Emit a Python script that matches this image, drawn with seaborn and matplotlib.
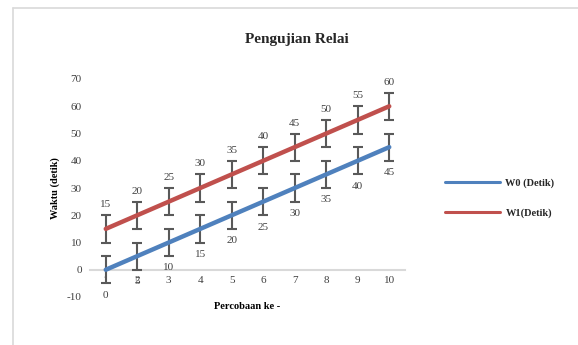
import numpy as np
import pandas as pd
import seaborn as sns
import matplotlib.pyplot as plt
from matplotlib.lines import Line2D

sns.set_theme(style="white")
plt.rcParams['font.family'] = ['Liberation Serif', 'DejaVu Serif']
plt.rcParams['axes.unicode_minus'] = False

# data
trials = [1, 2, 3, 4, 5, 6, 7, 8, 9, 10]
w0 = [0, 5, 10, 15, 20, 25, 30, 35, 40, 45]
w1 = [15, 20, 25, 30, 35, 40, 45, 50, 55, 60]
err = 5
series_names = ["W0 (Detik)", "W1(Detik)"]
colors = ["#4F81BD", "#C0504D"]

df = pd.DataFrame({
    "trial": trials * 2,
    "waktu": w0 + w1,
    "seri": [series_names[0]] * len(w0) + [series_names[1]] * len(w1),
})

fig = plt.figure(figsize=(5.78, 3.45), dpi=100)
ax = fig.add_axes([90 / 578, 1 - 297 / 345, 315 / 578, 218 / 345])

# error bars underneath the lines
for vals in (w0, w1):
    ax.errorbar(trials, vals, yerr=err, fmt="none", ecolor="#595959",
                elinewidth=1.5, capsize=3.6, capthick=1.5, zorder=2)

sns.lineplot(data=df, x="trial", y="waktu", hue="seri", palette=colors,
             linewidth=3.2, ax=ax, legend=False, zorder=3,
             solid_capstyle="round")

# data labels
for x, v in zip(trials, w0):
    ax.annotate(str(v), (x, v - err), xytext=(0, -8.5), textcoords="offset points",
                ha="center", va="center", fontsize=8, color="#404040")
for x, v in zip(trials, w1):
    ax.annotate(str(v), (x, v + err), xytext=(0, 7.5), textcoords="offset points",
                ha="center", va="center", fontsize=8, color="#404040")

ax.set_xlim(0.5, 10.5)
ax.set_ylim(-10, 70)
ax.set_yticks(range(-10, 71, 10))
ax.set_xticks(trials)
ax.set_xticklabels([str(t) for t in trials])

for s in ["top", "right", "left"]:
    ax.spines[s].set_visible(False)
ax.spines["bottom"].set_position(("data", 0))
ax.spines["bottom"].set_color("#d9d9d9")
ax.spines["bottom"].set_linewidth(1.5)
ax.spines["bottom"].set_zorder(1)
ax.tick_params(axis="both", length=0, labelsize=8, colors="#404040")
ax.tick_params(axis="x", pad=4.5)
ax.tick_params(axis="y", pad=6)

ax.set_xlabel("Percobaan ke -", fontsize=7.5, fontweight="bold", color="#000000")
ax.xaxis.set_label_coords(0.5, -0.025)
ax.set_ylabel("Waktu (detik)", fontsize=7.5, fontweight="bold", color="#000000")
ax.yaxis.set_label_coords(-0.095, 0.5)

fig.text(297 / 578, 1 - 40 / 345, "Pengujian Relai", fontsize=11, fontweight="bold",
         ha="center", va="center")

handles = [Line2D([0], [0], color=c, lw=2.2) for c in colors]
fig.legend(handles, series_names, loc="center left",
           bbox_to_anchor=(445 / 578, 1 - 198 / 345), frameon=False,
           prop={"size": 7.5, "weight": "bold"}, handlelength=5.3,
           handletextpad=0.5, labelspacing=2.0, borderpad=0, borderaxespad=0)

# chart frame (left and top edges)
fig.add_artist(Line2D([13 / 578, 13 / 578], [0, 1 - 8 / 345], color="#d9d9d9", lw=1.2))
fig.add_artist(Line2D([13 / 578, 1], [1 - 8 / 345, 1 - 8 / 345], color="#d9d9d9", lw=1.2))

fig.savefig("out.png", dpi=100)
